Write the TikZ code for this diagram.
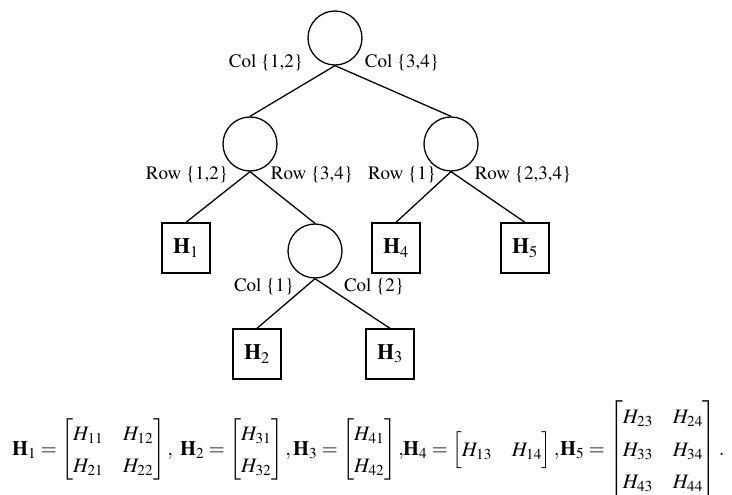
\documentclass[tikz,border=0pt]{standalone}
\usepackage[T1]{fontenc}
\usepackage{amsmath}
\usepackage{mathptmx}
\newcommand{\eqsetup}{\fontsize{20.5}{26}\selectfont\renewcommand{\arraystretch}{1.25}\setlength{\arraycolsep}{10pt}\thickmuskip=4mu plus 2mu\relax}
\begin{document}
\begin{tikzpicture}[x=1pt,y=-1pt,
  split/.style={draw,circle,line width=1.3pt,minimum size=54pt,inner sep=0pt},
  leaf/.style={draw,line width=1.3pt,minimum width=48pt,minimum height=50pt,inner sep=0pt,font=\fontsize{22}{24}\selectfont},
  lab/.style={font=\fontsize{19}{22}\selectfont,inner sep=0pt},
  edge/.style={line width=1.3pt},
  eqpart/.style={inner sep=0pt,anchor=base west,font=\eqsetup}]
\useasboundingbox (0,0) rectangle (732,495);
\node[split] (root) at (335,38) {};
\node[split] (L) at (250,144) {};
\node[split] (R) at (451,144) {};
\node[split] (M) at (315,251) {};
\node[leaf] (h1) at (186,248) {$\mathbf{H}_1$};
\node[leaf] (h4) at (396,248) {$\mathbf{H}_4$};
\node[leaf] (h5) at (525,248) {$\mathbf{H}_5$};
\node[leaf] (h2) at (257,354) {$\mathbf{H}_2$};
\node[leaf] (h3) at (390,354) {$\mathbf{H}_3$};
\draw[edge] (root.south) -- (L.north);
\draw[edge] (root.south) -- (R.north);
\draw[edge] (L.south) -- (h1.north);
\draw[edge] (L.south) -- (M.north);
\draw[edge] (R.south) -- (h4.north);
\draw[edge] (R.south) -- (h5.north);
\draw[edge] (M.south) -- (h2.north);
\draw[edge] (M.south) -- (h3.north);
\node[lab] (l1) at (266,63) {Col \{1,2\}};
\node[lab] (l2) at (402,63) {Col \{3,4\}};
\node[lab] (l3) at (187,175) {Row \{1,2\}};
\node[lab] (l4) at (312,175) {Row \{3,4\}};
\node[lab] (l5) at (402,175) {Row \{1\}};
\node[lab] (l6) at (523,175) {Row \{2,3,4\}};
\node[lab] (l7) at (264,287) {Col \{1\}};
\node[lab] (l8) at (374,287) {Col \{2\}};
\node[eqpart] (e1) at (12,455) {$\mathbf{H}_1=\begin{bmatrix}H_{11}&H_{12}\\H_{21}&H_{22}\end{bmatrix},$};
\node[eqpart] (e2) at (180,455) {$\mathbf{H}_2=\begin{bmatrix}H_{31}\\H_{32}\end{bmatrix},$};
\node[eqpart] (e3) at (293,455) {$\mathbf{H}_3=\begin{bmatrix}H_{41}\\H_{42}\end{bmatrix},$};
\node[eqpart] (e4) at (403,455) {$\mathbf{H}_4=\begin{bmatrix}H_{13}&H_{14}\end{bmatrix},$};
\node[eqpart] (e5) at (560,455) {$\mathbf{H}_5=\begin{bmatrix}H_{23}&H_{24}\\H_{33}&H_{34}\\H_{43}&H_{44}\end{bmatrix}.$};
\end{tikzpicture}
\end{document}
